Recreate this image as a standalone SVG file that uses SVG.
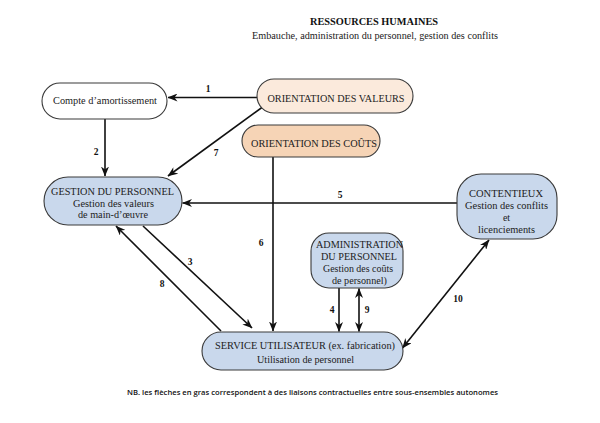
<svg xmlns="http://www.w3.org/2000/svg" width="600" height="423" viewBox="0 0 600 423">
<defs>
<style>
.box{stroke:#3a3a3a;stroke-width:1.1}
.white{fill:#ffffff}
.val{fill:#fbeadc}
.cout{fill:#f6d4b6}
.blue{fill:#c9d8ec}
.t{font-family:'Liberation Serif','DejaVu Serif','Times New Roman',serif;font-size:10px;fill:#222;text-anchor:middle}
.tb{font-family:'Liberation Serif','DejaVu Serif','Times New Roman',serif;font-size:10px;font-weight:bold;fill:#111;text-anchor:middle}
.lab{font-family:'Liberation Serif','DejaVu Serif','Times New Roman',serif;font-size:9.5px;font-weight:bold;fill:#111;text-anchor:middle}
.nb{font-family:'Open Sans','Liberation Sans',sans-serif;font-size:7.5px;font-weight:600;fill:#111;text-anchor:middle}
.c{stroke:#111;stroke-width:1.6;fill:none}
</style>
<marker id="ah" viewBox="0 0 10 8" refX="9.5" refY="4" markerWidth="10" markerHeight="8" markerUnits="userSpaceOnUse" orient="auto-start-reverse">
<path d="M0,0 L10,4 L0,8 L3,4 z" fill="#111"/>
</marker>
</defs>
<rect width="600" height="423" fill="#ffffff"/>
<g id="title">
<text class="tb" x="374" y="25" textLength="128" lengthAdjust="spacingAndGlyphs">RESSOURCES HUMAINES</text>
<text class="t" x="375" y="39" textLength="246" lengthAdjust="spacingAndGlyphs">Embauche, administration du personnel, gestion des conflits</text>
</g>
<g id="connectors">
<line class="c" x1="257" y1="97.5" x2="168" y2="97.5" marker-end="url(#ah)"/>
<line class="c" x1="105" y1="119" x2="105" y2="176" marker-end="url(#ah)"/>
<line class="c" x1="264" y1="106" x2="168" y2="176" marker-end="url(#ah)"/>
<line class="c" x1="457" y1="203" x2="182.5" y2="203" marker-end="url(#ah)"/>
<line class="c" x1="273" y1="157" x2="273" y2="331" marker-end="url(#ah)"/>
<line class="c" x1="143" y1="226" x2="252" y2="328" marker-end="url(#ah)"/>
<line class="c" x1="221" y1="331" x2="116" y2="226" marker-end="url(#ah)"/>
<line class="c" x1="339" y1="288" x2="339" y2="331.5" marker-end="url(#ah)"/>
<line class="c" x1="359" y1="288.5" x2="359" y2="331.5" marker-start="url(#ah)" marker-end="url(#ah)"/>
<line class="c" x1="402.5" y1="348" x2="489" y2="240" marker-start="url(#ah)" marker-end="url(#ah)"/>
<text class="lab" x="208" y="92">1</text>
<text class="lab" x="96" y="155">2</text>
<text class="lab" x="216" y="156">7</text>
<text class="lab" x="340" y="198">5</text>
<text class="lab" x="261" y="246">6</text>
<text class="lab" x="190" y="265">3</text>
<text class="lab" x="162" y="287">8</text>
<text class="lab" x="332" y="313">4</text>
<text class="lab" x="367" y="313">9</text>
<text class="lab" x="458" y="302">10</text>
</g>
<g id="compte">
<rect class="box white" x="42" y="83" width="125" height="36" rx="18"/>
<text class="t" x="105" y="103.5" textLength="104" lengthAdjust="spacingAndGlyphs">Compte d’amortissement</text>
</g>
<g id="orientation-valeurs">
<rect class="box val" x="257" y="79" width="156" height="34" rx="17"/>
<text class="t" x="336" y="101.5" font-size="9.5" textLength="137" lengthAdjust="spacingAndGlyphs">ORIENTATION DES VALEURS</text>
</g>
<g id="orientation-couts">
<rect class="box cout" x="242" y="125" width="138" height="32" rx="16"/>
<text class="t" x="314" y="146.5" font-size="9.5" textLength="126" lengthAdjust="spacingAndGlyphs">ORIENTATION DES COÛTS</text>
</g>
<g id="gestion">
<rect class="box blue" x="44" y="177" width="138" height="48" rx="24"/>
<text class="t" x="112.5" y="194.5" textLength="123" lengthAdjust="spacingAndGlyphs">GESTION DU PERSONNEL</text>
<text class="t" x="113.5" y="206.5" textLength="81" lengthAdjust="spacingAndGlyphs">Gestion des valeurs</text>
<text class="t" x="113" y="217.5" textLength="70" lengthAdjust="spacingAndGlyphs">de main-d’œuvre</text>
</g>
<g id="contentieux">
<rect class="box blue" x="457" y="174" width="100" height="65" rx="24"/>
<text class="t" x="506" y="196.5" textLength="74" lengthAdjust="spacingAndGlyphs">CONTENTIEUX</text>
<text class="t" x="506.5" y="208.5" textLength="83" lengthAdjust="spacingAndGlyphs">Gestion des conflits</text>
<text class="t" x="506.5" y="220.5">et</text>
<text class="t" x="506.5" y="233" textLength="57" lengthAdjust="spacingAndGlyphs">licenciements</text>
</g>
<g id="administration">
<rect class="box blue" x="311" y="233" width="92" height="55" rx="18"/>
<text class="t" x="359.5" y="247.5" textLength="87" lengthAdjust="spacingAndGlyphs">ADMINISTRATION</text>
<text class="t" x="359" y="259.5" textLength="76" lengthAdjust="spacingAndGlyphs">DU PERSONNEL</text>
<text class="t" x="358" y="271.5" textLength="70" lengthAdjust="spacingAndGlyphs">Gestion des coûts</text>
<text class="t" x="359.5" y="284" textLength="55" lengthAdjust="spacingAndGlyphs">de personnel)</text>
</g>
<g id="service">
<rect class="box blue" x="202" y="332" width="201" height="38" rx="19"/>
<text class="t" x="305" y="348.5" textLength="180" lengthAdjust="spacingAndGlyphs">SERVICE UTILISATEUR (ex. fabrication)</text>
<text class="t" x="305.5" y="362.5" textLength="97" lengthAdjust="spacingAndGlyphs">Utilisation de personnel</text>
</g>
<g id="note">
<text class="nb" x="312.5" y="394.5" textLength="371" lengthAdjust="spacingAndGlyphs">NB. les flèches en gras correspondent à des liaisons contractuelles entre sous-ensembles autonomes</text>
</g>
</svg>
